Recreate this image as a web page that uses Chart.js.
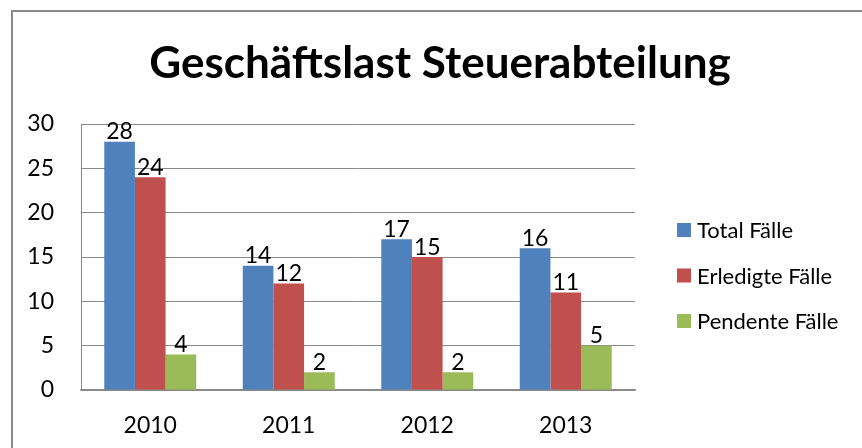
<!DOCTYPE html>
<html>
<head>
<meta charset="utf-8">
<script src="https://cdn.jsdelivr.net/npm/chart.js@4.4.1/dist/chart.umd.min.js"></script>
<style>
  html, body { margin: 0; padding: 0; background: #ffffff; }
  #wrap { width: 862px; height: 448px; }
</style>
</head>
<body>
<div id="wrap"><canvas id="c" width="862" height="448"></canvas></div>
<script>
const chartTitle = 'Geschäftslast Steuerabteilung';
const categories = ['2010', '2011', '2012', '2013'];
const seriesNames = ['Total Fälle', 'Erledigte Fälle', 'Pendente Fälle'];
const totalCases = [28, 14, 17, 16];
const doneCases = [24, 12, 15, 11];
const pendingCases = [4, 2, 2, 5];
const yTicks = [0, 5, 10, 15, 20, 25, 30];
const seriesColors = ['#4F81BD', '#C0504D', '#9BBB59'];

const FONT = 'Lato, "Open Sans", "Liberation Sans", sans-serif';

const framePlugin = {
  id: 'frame',
  beforeDraw(chart) {
    const ctx = chart.ctx;
    ctx.save();
    ctx.fillStyle = '#ffffff';
    ctx.fillRect(0, 0, chart.width, chart.height);
    ctx.strokeStyle = '#8a8a8a';
    ctx.lineWidth = 2;
    ctx.strokeRect(12, 11, 900, 500);
    ctx.restore();
  },
  afterDraw(chart) {
    const ctx = chart.ctx;
    ctx.save();
    // title
    ctx.fillStyle = '#000000';
    ctx.font = 'bold 44px ' + FONT;
    ctx.textAlign = 'center';
    ctx.textBaseline = 'alphabetic';
    ctx.fillText(chartTitle, 440, 78);
    // legend
    ctx.font = '22px ' + FONT;
    ctx.textAlign = 'left';
    ctx.textBaseline = 'middle';
    const rows = [230, 275.5, 321];
    chart.data.datasets.forEach((ds, i) => {
      ctx.fillStyle = ds.backgroundColor;
      ctx.fillRect(677, rows[i] - 7, 14, 14);
      ctx.fillStyle = '#000000';
      ctx.fillText(ds.label, 697, rows[i] + 1);
    });
    // data labels
    ctx.font = '23px ' + FONT;
    ctx.textAlign = 'center';
    ctx.textBaseline = 'alphabetic';
    chart.data.datasets.forEach((ds, i) => {
      const meta = chart.getDatasetMeta(i);
      meta.data.forEach((bar, j) => {
        ctx.fillText(String(ds.data[j]), bar.x, bar.y - 2.5);
      });
    });
    ctx.restore();
  }
};

new Chart(document.getElementById('c'), {
  type: 'bar',
  data: {
    labels: categories,
    datasets: [
      { label: seriesNames[0], data: totalCases, backgroundColor: seriesColors[0] },
      { label: seriesNames[1], data: doneCases, backgroundColor: seriesColors[1] },
      { label: seriesNames[2], data: pendingCases, backgroundColor: seriesColors[2] }
    ]
  },
  options: {
    responsive: false,
    animation: false,
    devicePixelRatio: 1,
    layout: { padding: { left: 0, right: 227, top: 124, bottom: 0 } },
    datasets: { bar: { categoryPercentage: 0.664, barPercentage: 1.0, borderWidth: 0 } },
    plugins: {
      legend: { display: false },
      title: { display: false },
      tooltip: { enabled: false }
    },
    scales: {
      x: {
        grid: { display: false, drawTicks: false },
        border: { display: true, color: '#8a8a8a', width: 1.5 },
        ticks: { color: '#000000', font: { family: FONT, size: 23 }, padding: 22, maxRotation: 0 },
        afterFit(scale) { scale.height = 58; }
      },
      y: {
        min: 0,
        max: 30,
        afterBuildTicks(scale) { scale.ticks = yTicks.map(v => ({ value: v })); },
        grid: { color: '#8a8a8a', lineWidth: 1, drawTicks: false },
        border: { display: true, color: '#8a8a8a', width: 1 },
        ticks: { color: '#000000', font: { family: FONT, size: 23 }, padding: 27 },
        afterFit(scale) { scale.width = 81; }
      }
    }
  },
  plugins: [framePlugin]
});
</script>
</body>
</html>
